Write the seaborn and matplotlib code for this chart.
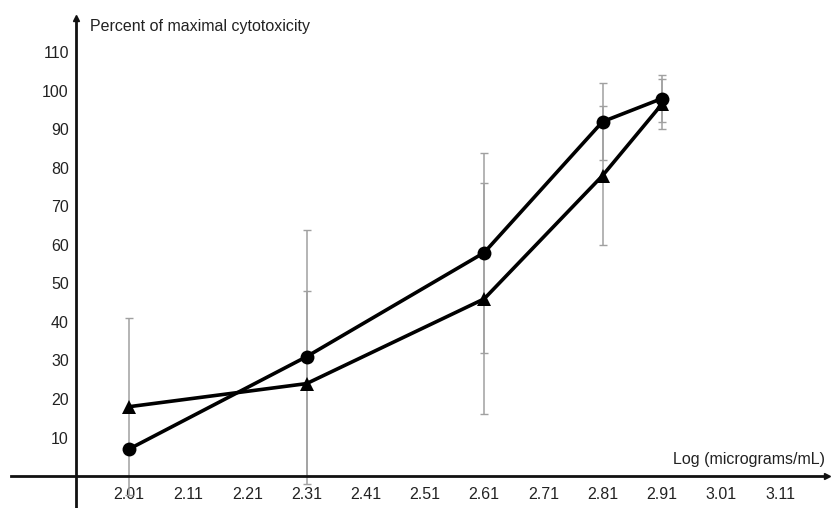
import pandas as pd
import matplotlib.pyplot as plt
import seaborn as sns

# data
log_dose = [2.01, 2.31, 2.61, 2.81, 2.91]
circle_vals = [7, 31, 58, 92, 98]
circle_err = [0, 33, 26, 10, 6]
triangle_vals = [18, 24, 46, 78, 96.5]
triangle_err = [23, 24, 30, 18, 6.5]

x_ticks = [1.81, 2.01, 2.11, 2.21, 2.31, 2.41, 2.51, 2.61, 2.71, 2.81, 2.91, 3.01, 3.11]
x_tick_labels = ['', '2.01', '2.11', '2.21', '2.31', '2.41', '2.51', '2.61',
                 '2.71', '2.81', '2.91', '3.01', '3.11']
y_ticks = [10, 20, 30, 40, 50, 60, 70, 80, 90, 100, 110]

df = pd.DataFrame({
    'x': log_dose * 2,
    'y': circle_vals + triangle_vals,
    'series': ['circle'] * 5 + ['triangle'] * 5,
})

sns.set_style('white')
plt.rcParams['font.family'] = ['Liberation Sans', 'DejaVu Sans']

fig = plt.figure(figsize=(8.31, 5.08), dpi=100)
ax = fig.add_axes([0, 0, 1, 1])

# error bars (gray, behind the lines)
ax.errorbar(log_dose, circle_vals, yerr=circle_err, fmt='none', ecolor='#a0a0a0',
            elinewidth=1.1, capsize=3, capthick=1, zorder=1)
ax.errorbar(log_dose, triangle_vals, yerr=triangle_err, fmt='none', ecolor='#a0a0a0',
            elinewidth=1.1, capsize=3, capthick=1, zorder=1)

sns.lineplot(data=df, x='x', y='y', style='series', markers={'circle': 'o', 'triangle': '^'},
             dashes=False, color='black', linewidth=2.6, markersize=10, markeredgewidth=0,
             legend=False, ax=ax, zorder=3)

ax.set_xlim(1.792, 3.196)
ax.set_ylim(-8.3, 123.6)

# axes through the origin
for s in ['top', 'right']:
    ax.spines[s].set_visible(False)
ax.spines['left'].set_position(('data', 1.92))
ax.spines['bottom'].set_position(('data', 0))
ax.spines['left'].set_bounds(-8.3, 119)
ax.spines['bottom'].set_bounds(1.81, 3.19)
for s in ['left', 'bottom']:
    ax.spines[s].set_linewidth(2)
    ax.spines[s].set_color('#111111')
    ax.spines[s].set_zorder(2)
ax.plot(1.92, 119, marker='^', color='#111111', markersize=5, clip_on=False)
ax.plot(3.19, 0, marker='>', color='#111111', markersize=5, clip_on=False)

ax.set_xticks(x_ticks)
ax.set_xticklabels(x_tick_labels)
ax.set_yticks(y_ticks)
ax.tick_params(axis='both', direction='inout', length=6, width=1, color='#999999',
               labelsize=11.5, labelcolor='#222222', pad=2)
ax.tick_params(axis='x', pad=5)
ax.set_xlabel('')
ax.set_ylabel('')

ax.text(0.108, 0.947, 'Percent of maximal cytotoxicity', transform=ax.transAxes,
        fontsize=11.5, color='#222222', ha='left', va='center')
ax.text(0.993, 0.095, 'Log (micrograms/mL)', transform=ax.transAxes,
        fontsize=11.5, color='#222222', ha='right', va='center')

plt.savefig('out.png', dpi=100)
